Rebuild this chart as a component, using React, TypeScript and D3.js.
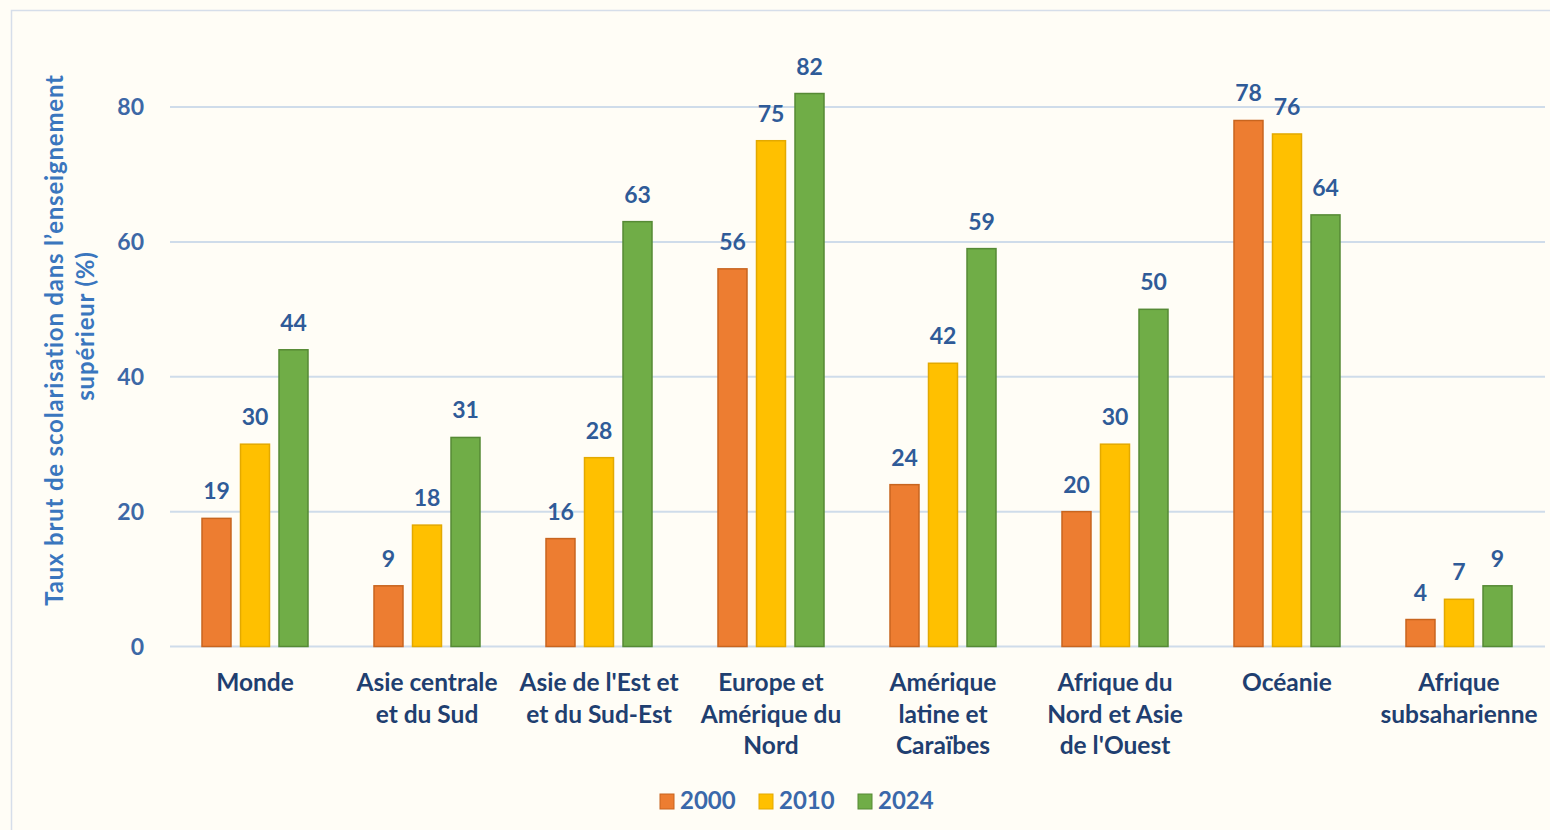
import React from "react";
import * as d3 from "d3";

// data
const categories = [
  ["Monde"],
  ["Asie centrale", "et du Sud"],
  ["Asie de l'Est et", "et du Sud-Est"],
  ["Europe et", "Amérique du", "Nord"],
  ["Amérique", "latine et", "Caraïbes"],
  ["Afrique du", "Nord et Asie", "de l'Ouest"],
  ["Océanie"],
  ["Afrique", "subsaharienne"],
];
const years = ["2000", "2010", "2024"];
const values2000 = [19, 9, 16, 56, 24, 20, 78, 4];
const values2010 = [30, 18, 28, 75, 42, 30, 76, 7];
const values2024 = [44, 31, 63, 82, 59, 50, 64, 9];
const yTicks = [0, 20, 40, 60, 80];

const fills = ["#ED7D31", "#FFC000", "#70AD47"];
const strokes = ["#C8651F", "#E3A900", "#568A35"];

const W = 1550;
const H = 830;
const FONT = "Lato, 'Open Sans', sans-serif";

export default function App() {
  const series = [values2000, values2010, values2024];
  const keys = categories.map((c) => c.join(" "));

  const x0 = d3.scaleBand().domain(keys).range([169, 1545]);
  const x1 = d3
    .scaleBand()
    .domain(years)
    .range([0, x0.bandwidth()])
    .paddingInner(0.247)
    .paddingOuter(0.857);
  const y = d3.scaleLinear().domain([0, 80]).range([646.5, 107]);

  return (
    <svg
      width={W}
      height={H}
      style={{ position: "absolute", left: 0, top: 0, background: "#FFFDF6" }}
      fontFamily={FONT}
    >
      <rect x={0} y={0} width={W} height={H} fill="#FFFDF6" />
      <rect x={11.5} y={10.5} width={W + 10} height={H + 10} fill="none" stroke="#D6DEEA" strokeWidth={1.5} />

      {/* grid + y ticks */}
      {yTicks.map((t) => (
        <g key={t}>
          <line x1={170} x2={1545} y1={y(t)} y2={y(t)} stroke="#CFDCEA" strokeWidth={2} />
          <text
            x={144}
            y={y(t)}
            dy="0.36em"
            textAnchor="end"
            fontSize={23}
            fontWeight={700}
            fill="#3D68A6"
          >
            {t}
          </text>
        </g>
      ))}

      {/* y title */}
      <g transform={`translate(58, 340) rotate(-90)`} fontSize={24} fontWeight={700} fill="#3A76BE" letterSpacing={0.8}>
        <text textAnchor="middle" y={5}>
          Taux brut de scolarisation dans l’enseignement
        </text>
        <text textAnchor="middle" x={14} y={36}>
          supérieur (%)
        </text>
      </g>

      {/* bars */}
      {keys.map((k, i) => (
        <g key={k} transform={`translate(${x0(k)},0)`}>
          {years.map((yr, j) => {
            const v = series[j][i];
            const bx = x1(yr)!;
            return (
              <g key={yr}>
                <rect
                  x={bx}
                  y={y(v)}
                  width={x1.bandwidth()}
                  height={y(0) - y(v)}
                  fill={fills[j]}
                  stroke={strokes[j]}
                  strokeWidth={1.5}
                />
                <text
                  x={bx + x1.bandwidth() / 2}
                  y={y(v) - 19}
                  textAnchor="middle"
                  fontSize={23}
                  fontWeight={700}
                  fill="#2F5B98"
                >
                  {v}
                </text>
              </g>
            );
          })}
          {categories[i].map((line, li) => (
            <text
              key={li}
              x={x0.bandwidth() / 2}
              y={691 + li * 31.5}
              textAnchor="middle"
              fontSize={24.5}
              fontWeight={700}
              fill="#1F3F70"
            >
              {line}
            </text>
          ))}
        </g>
      ))}

      {/* legend */}
      {years.map((yr, j) => {
        const lx = [660, 759, 858][j];
        return (
          <g key={yr} transform={`translate(${lx}, 794)`}>
            <rect width={14} height={15} fill={fills[j]} stroke={strokes[j]} strokeWidth={1} />
            <text x={20} y={15} fontSize={24} fontWeight={700} fill="#3A68AA">
              {yr}
            </text>
          </g>
        );
      })}
    </svg>
  );
}
